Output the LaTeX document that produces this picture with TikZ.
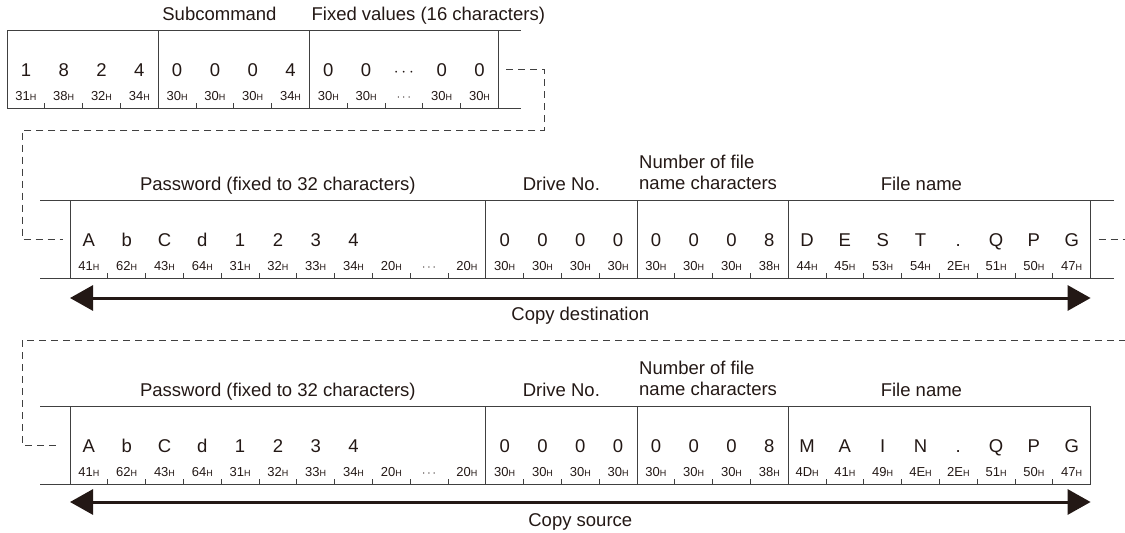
\documentclass[tikz,border=0pt]{standalone}
\usepackage{fontspec}
\setmainfont{Liberation Sans}
\usetikzlibrary{arrows.meta, positioning, calc}

\definecolor{linegray}{HTML}{404040}
\definecolor{inkdark}{HTML}{231815}
\newcommand{\cellw}{37.8pt}
\newcommand{\Hs}{{\fontsize{9}{9}\selectfont H}}

\begin{document}
\begin{tikzpicture}[
    x=1pt, y=-1pt,
    font=\fontsize{18.5}{21}\selectfont,
    field/.style    = {rectangle, draw=linegray, line width=1pt, inner sep=0pt,
                       outer sep=0pt, minimum height=78pt, anchor=north west},
    cellv/.style    = {anchor=base, inner sep=0pt, text=inkdark},
    cellh/.style    = {anchor=base, inner sep=0pt, text=inkdark,
                       font=\fontsize{13}{13}\selectfont},
    hdr/.style      = {anchor=base, inner sep=0pt, text=inkdark},
    edgeline/.style = {draw=linegray, line width=1pt},
    ticks/.style    = {draw=linegray, line width=1pt},
    dashline/.style = {draw=linegray, line width=1pt, dash pattern=on 7pt off 5pt},
    copyarrow/.style= {{Triangle[length=23pt, width=25pt]}-{Triangle[length=23pt, width=25pt]},
                       line width=3pt, draw=inkdark}
]
\useasboundingbox (0,0) rectangle (1125,533);

%% -- Row 1: command, subcommand, fixed values ----------------
\node[field, minimum width=4*\cellw] (cmd) at (7,30) {};
\node[field, minimum width=4*\cellw, right=0pt of cmd]    (subcmd) {};
\node[field, minimum width=5*\cellw, right=0pt of subcmd] (fixed)  {};
\draw[edgeline] (fixed.north east) -- ++(23,0);
\draw[edgeline] (fixed.south east) -- ++(23,0);

\node[hdr, anchor=base west] (subcmd_lb) at ($(subcmd.north west)+(4,-10)$) {Subcommand};
\node[hdr, anchor=base west] (fixed_lb)  at ($(fixed.north west)+(2,-10)$)  {Fixed values (16 characters)};

\foreach \v/\h [count=\i] in {1/31\Hs, 8/38\Hs, 2/32\Hs, 4/34\Hs} {
  \node[cellv] (cmd-v\i) at ($(cmd.north west)+({(\i-0.5)*\cellw},46)$) {\v};
  \node[cellh] (cmd-h\i) at ($(cmd.north west)+({(\i-0.5)*\cellw},70)$) {\h};
}
\foreach \v/\h [count=\i] in {0/30\Hs, 0/30\Hs, 0/30\Hs, 4/34\Hs} {
  \node[cellv] (subcmd-v\i) at ($(subcmd.north west)+({(\i-0.5)*\cellw},46)$) {\v};
  \node[cellh] (subcmd-h\i) at ($(subcmd.north west)+({(\i-0.5)*\cellw},70)$) {\h};
}
\foreach \v/\h [count=\i] in {0/30\Hs, 0/30\Hs, {$\cdots$}/{$\cdots$}, 0/30\Hs, 0/30\Hs} {
  \node[cellv] (fixed-v\i) at ($(fixed.north west)+({(\i-0.5)*\cellw},46)$) {\v};
  \node[cellh] (fixed-h\i) at ($(fixed.north west)+({(\i-0.5)*\cellw},70)$) {\h};
}

%% -- Row 2: copy destination ---------------------------------
\node[field, minimum width=11*\cellw] (dpw) at (70,200) {};
\node[field, minimum width=4*\cellw, right=0pt of dpw]  (ddrv)  {};
\node[field, minimum width=4*\cellw, right=0pt of ddrv] (dlen)  {};
\node[field, minimum width=8*\cellw, right=0pt of dlen] (dname) {};
\draw[edgeline] (dpw.north west) -- ++(-30,0);
\draw[edgeline] (dpw.south west) -- ++(-30,0);
\draw[edgeline] (dname.north east) -- ++(23,0);
\draw[edgeline] (dname.south east) -- ++(23,0);

\node[hdr] (dpw_lb)   at ($(dpw.north)+(0,-10)$)   {Password (fixed to 32 characters)};
\node[hdr] (ddrv_lb)  at ($(ddrv.north)+(0,-10)$)  {Drive No.};
\node[hdr, anchor=south west, align=left] (dlen_lb) at ($(dlen.north west)+(2,-10)$)
      {Number of file\\name characters};
\node[hdr] (dname_lb) at ($(dname.north)+(-18,-10)$) {File name};

\foreach \v [count=\i] in {A,b,C,d,1,2,3,4}
  \node[cellv] (dpw-v\i) at ($(dpw.north west)+({(\i-0.5)*\cellw},46)$) {\v};
\foreach \h [count=\i] in {41\Hs,62\Hs,43\Hs,64\Hs,31\Hs,32\Hs,33\Hs,34\Hs,20\Hs,{$\cdots$},20\Hs}
  \node[cellh] (dpw-h\i) at ($(dpw.north west)+({(\i-0.5)*\cellw},70)$) {\h};
\foreach \v/\h [count=\i] in {0/30\Hs, 0/30\Hs, 0/30\Hs, 0/30\Hs} {
  \node[cellv] (ddrv-v\i) at ($(ddrv.north west)+({(\i-0.5)*\cellw},46)$) {\v};
  \node[cellh] (ddrv-h\i) at ($(ddrv.north west)+({(\i-0.5)*\cellw},70)$) {\h};
}
\foreach \v/\h [count=\i] in {0/30\Hs, 0/30\Hs, 0/30\Hs, 8/38\Hs} {
  \node[cellv] (dlen-v\i) at ($(dlen.north west)+({(\i-0.5)*\cellw},46)$) {\v};
  \node[cellh] (dlen-h\i) at ($(dlen.north west)+({(\i-0.5)*\cellw},70)$) {\h};
}
\foreach \v/\h [count=\i] in {D/44\Hs, E/45\Hs, S/53\Hs, T/54\Hs, ./2E\Hs, Q/51\Hs, P/50\Hs, G/47\Hs} {
  \node[cellv] (dname-v\i) at ($(dname.north west)+({(\i-0.5)*\cellw},46)$) {\v};
  \node[cellh] (dname-h\i) at ($(dname.north west)+({(\i-0.5)*\cellw},70)$) {\h};
}

%% -- Row 3: copy source --------------------------------------
\node[field, minimum width=11*\cellw] (spw) at (70,406) {};
\node[field, minimum width=4*\cellw, right=0pt of spw]  (sdrv)  {};
\node[field, minimum width=4*\cellw, right=0pt of sdrv] (slen)  {};
\node[field, minimum width=8*\cellw, right=0pt of slen] (sname) {};
\draw[edgeline] (spw.north west) -- ++(-30,0);
\draw[edgeline] (spw.south west) -- ++(-30,0);

\node[hdr] (spw_lb)   at ($(spw.north)+(0,-10)$)   {Password (fixed to 32 characters)};
\node[hdr] (sdrv_lb)  at ($(sdrv.north)+(0,-10)$)  {Drive No.};
\node[hdr, anchor=south west, align=left] (slen_lb) at ($(slen.north west)+(2,-10)$)
      {Number of file\\name characters};
\node[hdr] (sname_lb) at ($(sname.north)+(-18,-10)$) {File name};

\foreach \v [count=\i] in {A,b,C,d,1,2,3,4}
  \node[cellv] (spw-v\i) at ($(spw.north west)+({(\i-0.5)*\cellw},46)$) {\v};
\foreach \h [count=\i] in {41\Hs,62\Hs,43\Hs,64\Hs,31\Hs,32\Hs,33\Hs,34\Hs,20\Hs,{$\cdots$},20\Hs}
  \node[cellh] (spw-h\i) at ($(spw.north west)+({(\i-0.5)*\cellw},70)$) {\h};
\foreach \v/\h [count=\i] in {0/30\Hs, 0/30\Hs, 0/30\Hs, 0/30\Hs} {
  \node[cellv] (sdrv-v\i) at ($(sdrv.north west)+({(\i-0.5)*\cellw},46)$) {\v};
  \node[cellh] (sdrv-h\i) at ($(sdrv.north west)+({(\i-0.5)*\cellw},70)$) {\h};
}
\foreach \v/\h [count=\i] in {0/30\Hs, 0/30\Hs, 0/30\Hs, 8/38\Hs} {
  \node[cellv] (slen-v\i) at ($(slen.north west)+({(\i-0.5)*\cellw},46)$) {\v};
  \node[cellh] (slen-h\i) at ($(slen.north west)+({(\i-0.5)*\cellw},70)$) {\h};
}
\foreach \v/\h [count=\i] in {M/4D\Hs, A/41\Hs, I/49\Hs, N/4E\Hs, ./2E\Hs, Q/51\Hs, P/50\Hs, G/47\Hs} {
  \node[cellv] (sname-v\i) at ($(sname.north west)+({(\i-0.5)*\cellw},46)$) {\v};
  \node[cellh] (sname-h\i) at ($(sname.north west)+({(\i-0.5)*\cellw},70)$) {\h};
}

%% -- Byte ticks on the bottom lines ---------------------------
\foreach \g/\n in {cmd/3, subcmd/3, fixed/4, dpw/10, ddrv/3, dlen/3, dname/7,
                   spw/10, sdrv/3, slen/3, sname/7}
  \foreach \k in {1,...,\n}
    \draw[ticks] ($(\g.south west)+(\k*\cellw,0)$) -- ++(0,-5);

%% -- Dashed continuations -------------------------------------
\coordinate (t1) at ($(fixed.east)+(8,0)$);
\coordinate (h2) at ($(dpw.west)+(-7,0)$);
\coordinate (c1) at ($(t1)+(38,61)$);
\coordinate (c2) at ($(h2)+(-41,0)$);
\draw[dashline] (t1) -| (c1) -| (c2) -- (h2);

\coordinate (t2) at ($(dname.east)+(8,0)$);
\coordinate (e2) at ($(t2)+(27,0)$);
\draw[dashline] (t2) -- (e2);

\coordinate (h3) at ($(spw.west)+(-13,0)$);
\coordinate (e3) at ($(sname.north east)+(35,-66)$);
\coordinate (c3) at ($(h3)+(-35,0)$);
\draw[dashline] (e3) -| (c3) -- (h3);

%% -- Arrows: copy destination / copy source -------------------
\coordinate (dL) at ($(dpw.south west)+(0,20)$);
\coordinate (dR) at ($(dname.south east)+(0,20)$);
\draw[copyarrow] (dL) -- node[hdr, midway, yshift=-22pt] (dst_lb) {Copy destination} (dR);

\coordinate (sL) at ($(spw.south west)+(0,18)$);
\coordinate (sR) at ($(sname.south east)+(0,18)$);
\draw[copyarrow] (sL) -- node[hdr, midway, yshift=-24pt] (src_lb) {Copy source} (sR);

\end{tikzpicture}
\end{document}
